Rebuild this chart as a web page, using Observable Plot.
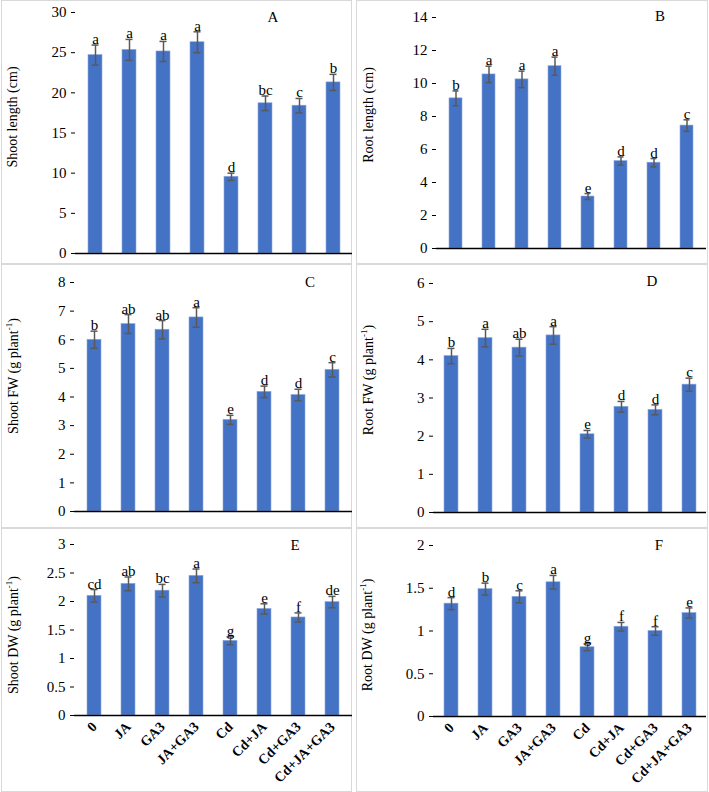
<!DOCTYPE html>
<html><head><meta charset="utf-8">
<script src="https://cdn.jsdelivr.net/npm/d3@7"></script>
<script src="https://cdn.jsdelivr.net/npm/@observablehq/plot@0.6"></script>
<style>
body{margin:0;background:#fff;font-family:"Liberation Serif","Times New Roman",serif;}
#wrap{position:relative;width:709px;height:792px;overflow:hidden;}
.panel{position:absolute;border:1.5px solid #d9d9d9;box-sizing:border-box;}
.plot{position:absolute;overflow:visible;}
.ylab{position:absolute;transform:translate(-50%,-50%) rotate(-90deg);white-space:nowrap;font-size:14px;color:#000;font-family:"Liberation Serif",serif;}
.tag{position:absolute;font-size:15px;transform:translate(-50%,-50%);color:#000;font-family:"Liberation Serif",serif;}
sup{font-size:9px;}
svg text{font-family:"Liberation Serif",serif;}
</style></head><body><div id="wrap"></div>
<script>
const treatments = ["0","JA","GA3","JA+GA3","Cd","Cd+JA","Cd+GA3","Cd+JA+GA3"];

const shootLength    = [24.7, 25.35, 25.15, 26.3, 9.55, 18.7, 18.4, 21.3];
const shootLengthErr = [1.25, 1.3, 1.25, 1.3, 0.45, 0.9, 0.9, 1.0];
const shootLengthLet = ["a","a","a","a","d","bc","c","b"];

const rootLength     = [9.1, 10.55, 10.25, 11.05, 3.15, 5.3, 5.2, 7.45];
const rootLengthErr  = [0.45, 0.5, 0.5, 0.55, 0.18, 0.25, 0.25, 0.35];
const rootLengthLet  = ["b","a","a","a","e","d","d","c"];

const shootFW        = [6.0, 6.55, 6.35, 6.78, 3.2, 4.18, 4.07, 4.95];
const shootFWErr     = [0.3, 0.33, 0.32, 0.34, 0.16, 0.2, 0.2, 0.25];
const shootFWLet     = ["b","ab","ab","a","e","d","d","c"];

const rootFW         = [4.1, 4.57, 4.32, 4.64, 2.05, 2.77, 2.69, 3.35];
const rootFWErr      = [0.2, 0.23, 0.22, 0.23, 0.1, 0.14, 0.13, 0.17];
const rootFWLet      = ["b","a","ab","a","e","d","d","c"];

const shootDW        = [2.1, 2.31, 2.19, 2.45, 1.31, 1.87, 1.72, 1.99];
const shootDWErr     = [0.11, 0.12, 0.11, 0.12, 0.07, 0.09, 0.08, 0.1];
const shootDWLet     = ["cd","ab","bc","a","g","e","f","de"];

const rootDW         = [1.32, 1.49, 1.40, 1.57, 0.81, 1.05, 1.00, 1.21];
const rootDWErr      = [0.07, 0.07, 0.07, 0.08, 0.04, 0.05, 0.05, 0.06];
const rootDWLet      = ["d","b","c","a","g","f","f","e"];

const panelTags = ["A","B","C","D","E","F"];
const yLabels = ["Shoot length (cm)","Root length (cm)","Shoot FW (g plant<sup>-1</sup>)","Root FW (g plant<sup>-1</sup>)","Shoot DW (g plant<sup>-1</sup>)","Root DW (g plant<sup>-1</sup>)"];
const yMax = [30, 14, 8, 6, 3, 2];
const yStep = [5, 2, 1, 1, 0.5, 0.5];

const series = [
  [shootLength, shootLengthErr, shootLengthLet],
  [rootLength, rootLengthErr, rootLengthLet],
  [shootFW, shootFWErr, shootFWLet],
  [rootFW, rootFWErr, rootFWLet],
  [shootDW, shootDWErr, shootDWLet],
  [rootDW, rootDWErr, rootDWLet]
];

// layout: panel box, plot box & margins, label & tag positions
const layout = [
  {box:[1,0,351,265], plot:[2,1,350,263], m:[11,0,11,73], lab:[13,117], tag:[273,17]},
  {box:[356,0,352,265], plot:[357,1,349,263], m:[16,0,16,79], lab:[369,115], tag:[660,16]},
  {box:[1,263,351,266], plot:[2,265,350,262], m:[17,0,16,72], lab:[13,376], tag:[310,282]},
  {box:[356,263,352,266], plot:[357,265,349,262], m:[18,0,15,76], lab:[368,380], tag:[652,281]},
  {box:[1,527,351,265], plot:[2,529,350,262], m:[15,0,76,72], lab:[13,635], tag:[295,545]},
  {box:[356,527,352,265], plot:[357,529,349,262], m:[16,0,75,76], lab:[367,635], tag:[659,545]}
];

const wrap = document.getElementById("wrap");
const fmt = d3.format("~g");

series.forEach(([vals, errs, lets], i) => {
  const L = layout[i];
  const box = document.createElement("div");
  box.className = "panel";
  box.style.left = L.box[0]+"px"; box.style.top = L.box[1]+"px";
  box.style.width = L.box[2]+"px"; box.style.height = L.box[3]+"px";
  wrap.appendChild(box);

  const data = treatments.map((t, j) => ({t, v: vals[j], e: errs[j], l: lets[j]}));
  const showX = i >= 4;
  const ticks = d3.range(0, yMax[i] + yStep[i]/2, yStep[i]);
  const chart = Plot.plot({
    width: L.plot[2], height: L.plot[3],
    marginTop: L.m[0], marginRight: L.m[1], marginBottom: L.m[2], marginLeft: L.m[3],
    style: {fontFamily: '"Liberation Serif",serif', fontSize: "15px", color: "#000", background: "transparent", overflow: "visible"},
    x: {domain: treatments, paddingInner: 0.6, paddingOuter: 0.3, label: null},
    y: {domain: [0, yMax[i]], label: null},
    marks: [
      Plot.barY(data, {x: "t", y: "v", fill: "#4472C4", stroke: "#8faadc", strokeWidth: 0.6}),
      Plot.ruleX(data, {x: "t", y1: d => d.v - d.e, y2: d => d.v + d.e, stroke: "#595959", strokeWidth: 1.5}),
      Plot.tickY(data, {x: "t", y: d => d.v - d.e, stroke: "#595959", strokeWidth: 1.5, insetLeft: 3.5, insetRight: 3.5}),
      Plot.tickY(data, {x: "t", y: d => d.v + d.e, stroke: "#595959", strokeWidth: 1.5, insetLeft: 3.5, insetRight: 3.5}),
      Plot.text(data, {x: "t", y: d => d.v + d.e, text: "l", lineAnchor: "bottom", dy: -1, fontSize: 15, fill: "#000"}),
      Plot.axisY({ticks, tickFormat: fmt, tickSize: 4, tickPadding: 5, stroke: "#000", fontSize: 15, label: null}),
      Plot.ruleX([0], {frameAnchor: "left", stroke: "#000", strokeWidth: 1.3}),
      Plot.ruleY([0], {stroke: "#000", strokeWidth: 1.3}),
      showX
        ? Plot.axisX({tickSize: 0, tickRotate: -45, tickPadding: 9, fontWeight: "bold", fontSize: 14, label: null})
        : Plot.axisX({ticks: [], label: null})
    ]
  });
  chart.classList.add("plot");
  chart.style.left = L.plot[0]+"px"; chart.style.top = L.plot[1]+"px";
  wrap.appendChild(chart);

  const lab = document.createElement("div");
  lab.className = "ylab";
  lab.innerHTML = yLabels[i];
  lab.style.left = L.lab[0]+"px"; lab.style.top = L.lab[1]+"px";
  wrap.appendChild(lab);

  const tag = document.createElement("div");
  tag.className = "tag";
  tag.textContent = panelTags[i];
  tag.style.left = L.tag[0]+"px"; tag.style.top = L.tag[1]+"px";
  wrap.appendChild(tag);
});
</script>
</body></html>
